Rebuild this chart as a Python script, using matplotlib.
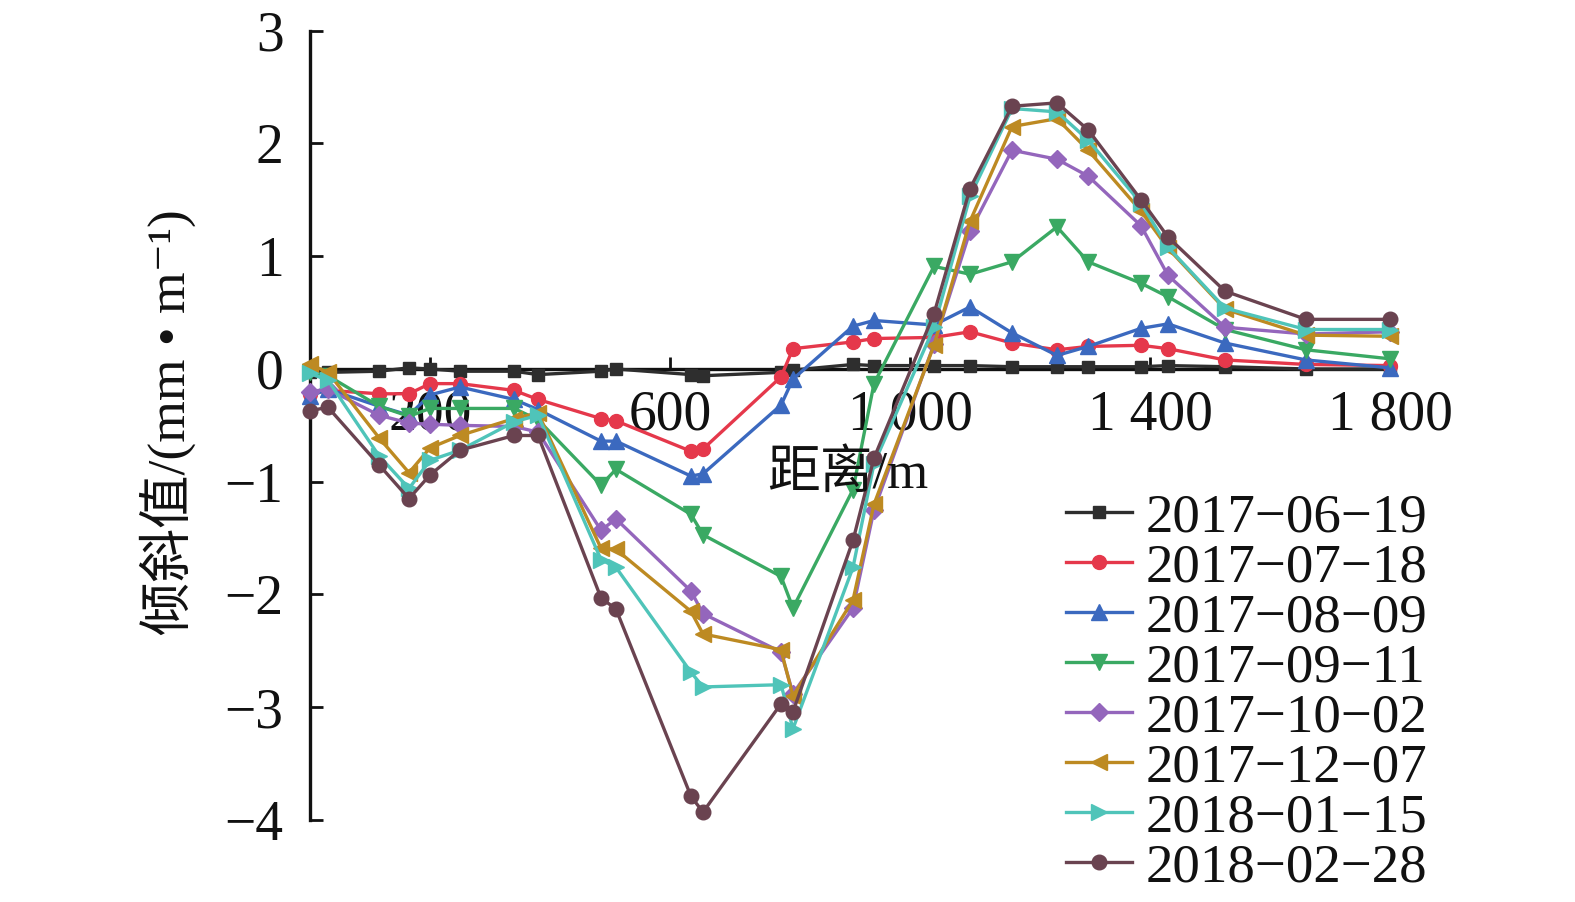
import matplotlib
matplotlib.use("Agg")
import matplotlib.pyplot as plt

plt.rcParams['font.family'] = ['Liberation Serif', 'Noto Sans CJK SC', 'DejaVu Serif']
plt.rcParams['axes.unicode_minus'] = True

# distance along the line (m)
dist = [0, 30, 115, 165, 200, 250, 340, 380, 485, 510, 635, 655, 785, 805,
        905, 940, 1040, 1100, 1170, 1245, 1297, 1385, 1430, 1525, 1660, 1800]

dates = ['2017−06−19', '2017−07−18', '2017−08−09', '2017−09−11',
         '2017−10−02', '2017−12−07', '2018−01−15', '2018−02−28']

s0619 = [-0.03, -0.03, -0.02, 0.01, 0.0, -0.02, -0.02, -0.05, -0.02, 0.0, -0.05, -0.06, -0.03,
         -0.01, 0.04, 0.03, 0.03, 0.03, 0.02, 0.02, 0.02, 0.02, 0.03, 0.02, 0.0, 0.0]
s0718 = [-0.22, -0.19, -0.22, -0.22, -0.13, -0.13, -0.19, -0.27, -0.44, -0.46, -0.73, -0.71, -0.07,
         0.18, 0.24, 0.27, 0.28, 0.33, 0.23, 0.17, 0.20, 0.21, 0.18, 0.08, 0.04, 0.03]
s0809 = [-0.24, -0.18, -0.33, -0.41, -0.23, -0.16, -0.27, -0.36, -0.64, -0.64, -0.95, -0.93, -0.32,
         -0.09, 0.38, 0.43, 0.39, 0.55, 0.32, 0.12, 0.20, 0.36, 0.40, 0.23, 0.08, 0.01]
s0911 = [-0.03, -0.06, -0.33, -0.42, -0.35, -0.35, -0.35, -0.45, -1.03, -0.89, -1.29, -1.47, -1.84,
         -2.12, -1.07, -0.13, 0.91, 0.84, 0.95, 1.26, 0.95, 0.76, 0.64, 0.35, 0.17, 0.09]
s1002 = [-0.20, -0.18, -0.41, -0.48, -0.49, -0.50, -0.51, -0.56, -1.43, -1.33, -1.97, -2.17, -2.51,
         -2.88, -2.12, -1.25, 0.22, 1.22, 1.94, 1.86, 1.71, 1.27, 0.83, 0.37, 0.31, 0.33]
s1207 = [0.04, -0.03, -0.61, -0.92, -0.70, -0.59, -0.44, -0.39, -1.59, -1.60, -2.15, -2.35, -2.49,
         -2.90, -2.05, -1.20, 0.21, 1.31, 2.15, 2.22, 1.94, 1.40, 1.07, 0.53, 0.30, 0.29]
s0115 = [-0.04, -0.10, -0.77, -1.06, -0.81, -0.72, -0.47, -0.41, -1.69, -1.76, -2.69, -2.82, -2.80,
         -3.19, -1.76, -0.84, 0.37, 1.53, 2.31, 2.28, 2.03, 1.47, 1.08, 0.54, 0.35, 0.35]
s0228 = [-0.37, -0.34, -0.85, -1.15, -0.94, -0.72, -0.59, -0.59, -2.03, -2.13, -3.79, -3.93, -2.97,
         -3.04, -1.52, -0.79, 0.49, 1.60, 2.33, 2.36, 2.12, 1.50, 1.17, 0.69, 0.44, 0.44]

series = [s0619, s0718, s0809, s0911, s1002, s1207, s0115, s0228]
colors = ['#2e2e2e', '#e5384b', '#3b69bf', '#3aa963', '#9466bc', '#bd8a22', '#4fc4b9', '#6a4350']
markers = ['s', 'o', '^', 'v', 'D', '<', '>', 'o']
msizes = [8, 10, 11, 11, 9, 11, 11, 10.5]

xticks = [200, 600, 1000, 1400, 1800]
xtick_labels = ['200', '600', '1 000', '1 400', '1 800']
yticks = [3, 2, 1, 0, -1, -2, -3, -4]

fig = plt.figure(figsize=(15.75, 9.02), dpi=100)
ax = fig.add_axes([310 / 1575, 1 - 820 / 902, 1080 / 1575, 789.3 / 902])

for vals, lab, c, m, ms in zip(series, dates, colors, markers, msizes):
    ax.plot(dist, vals, color=c, marker=m, markersize=ms, linewidth=2.4, label=lab,
            clip_on=False)

ax.set_xlim(0, 1800)
ax.set_ylim(-4, 3)
ax.spines['top'].set_visible(False)
ax.spines['right'].set_visible(False)
ax.spines['bottom'].set_position(('data', 0))
ax.spines['left'].set_position(('data', 0))
for sp in ('bottom', 'left'):
    ax.spines[sp].set_linewidth(2.4)
    ax.spines[sp].set_color('#111111')
    ax.spines[sp].set_zorder(1)

ax.set_xticks(xticks)
ax.set_xticklabels(xtick_labels)
ax.set_yticks(yticks)
ax.set_yticklabels([str(v).replace('-', '−') for v in yticks])
ax.tick_params(axis='x', direction='in', length=9, width=2, labelsize=40, pad=15,
               colors='#111111')
ax.tick_params(axis='y', direction='in', length=9, width=2, labelsize=40, pad=19,
               colors='#111111')

fig.text(848 / 1575, 1 - 474 / 902, '距离/m', fontsize=38, ha='center', va='center',
         color='#111111')
fig.text(168 / 1575, 1 - 422 / 902, '倾斜值/(mm • m⁻¹)', fontsize=38.5,
         rotation=90, ha='center', va='center', color='#111111')

leg = ax.legend(loc='upper left', bbox_to_anchor=(1066 / 1575, 1 - 493 / 902),
                bbox_transform=fig.transFigure, frameon=False, fontsize=39.5,
                handlelength=1.2, handletextpad=0.25, labelspacing=-0.01,
                borderpad=0, borderaxespad=0)
for t in leg.get_texts():
    t.set_color('#111111')

fig.savefig('out.png', dpi=100)
